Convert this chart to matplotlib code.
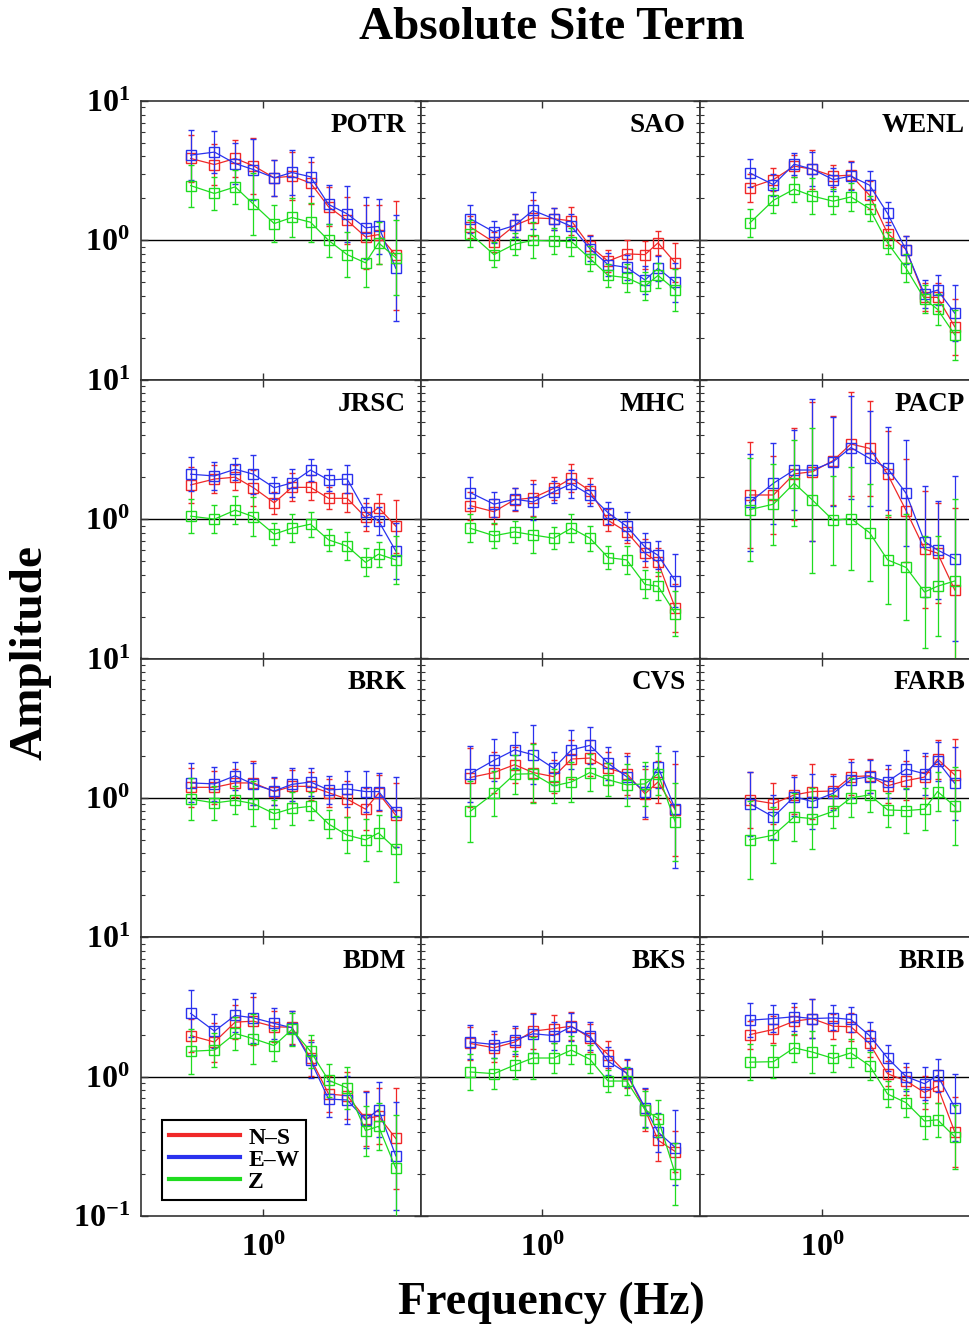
import matplotlib.pyplot as plt
from matplotlib.lines import Line2D
from matplotlib.ticker import LogLocator, NullLocator, NullFormatter, FixedLocator, FixedFormatter

plt.rcParams['font.family'] = ['Liberation Serif', 'DejaVu Serif']
plt.rcParams['font.weight'] = 'bold'
plt.rcParams['mathtext.fontset'] = 'custom'
plt.rcParams['mathtext.rm'] = 'Liberation Serif:bold'
plt.rcParams['mathtext.bf'] = 'Liberation Serif:bold'
plt.rcParams['mathtext.it'] = 'Liberation Serif:bold'

# frequency bands (Hz)
freqs = [0.41, 0.55, 0.71, 0.89, 1.15, 1.43, 1.8, 2.25, 2.83, 3.55, 4.17, 5.16]

stations = ['POTR', 'SAO', 'WENL', 'JRSC', 'MHC', 'PACP',
            'BRK', 'CVS', 'FARB', 'BDM', 'BKS', 'BRIB']
components = ['N–S', 'E–W', 'Z']
colors = ['#f02828', '#2a32ee', '#1fdc1f']

# site amplitudes, N-S / E-W / Z
potr_ns = [3.87, 3.50, 3.87, 3.43, 2.81, 2.89, 2.58, 1.74, 1.39, 1.06, 1.10, 0.78]
potr_ew = [4.09, 4.30, 3.56, 3.22, 2.81, 3.07, 2.86, 1.81, 1.55, 1.23, 1.26, 0.63]
potr_z = [2.47, 2.17, 2.42, 1.82, 1.32, 1.46, 1.35, 1.00, 0.79, 0.69, 0.96, 0.75]
sao_ns = [1.25, 0.97, 1.28, 1.45, 1.43, 1.38, 0.91, 0.71, 0.80, 0.79, 0.96, 0.69]
sao_ew = [1.43, 1.15, 1.28, 1.64, 1.43, 1.26, 0.87, 0.67, 0.64, 0.52, 0.63, 0.50]
sao_z = [1.12, 0.79, 0.94, 1.00, 0.99, 0.98, 0.74, 0.56, 0.54, 0.47, 0.56, 0.44]
wenl_ns = [2.39, 2.73, 3.41, 3.24, 2.89, 2.94, 2.11, 1.12, 0.86, 0.39, 0.39, 0.24]
wenl_ew = [3.05, 2.51, 3.52, 3.24, 2.73, 2.89, 2.49, 1.56, 0.85, 0.41, 0.44, 0.30]
wenl_z = [1.33, 1.94, 2.33, 2.08, 1.91, 2.05, 1.69, 0.96, 0.63, 0.38, 0.32, 0.21]
jrsc_ns = [1.76, 1.94, 2.00, 1.68, 1.31, 1.69, 1.69, 1.41, 1.41, 1.03, 1.21, 0.89]
jrsc_ew = [2.10, 2.04, 2.28, 2.10, 1.68, 1.82, 2.25, 1.91, 1.94, 1.13, 0.97, 0.59]
jrsc_z = [1.05, 1.00, 1.16, 1.04, 0.78, 0.86, 0.92, 0.71, 0.64, 0.49, 0.56, 0.51]
mhc_ns = [1.25, 1.13, 1.38, 1.42, 1.66, 1.96, 1.60, 0.98, 0.81, 0.57, 0.49, 0.23]
mhc_ew = [1.55, 1.28, 1.39, 1.33, 1.57, 1.79, 1.49, 1.11, 0.89, 0.63, 0.55, 0.36]
mhc_z = [0.86, 0.76, 0.81, 0.77, 0.73, 0.86, 0.73, 0.53, 0.51, 0.34, 0.33, 0.21]
pacp_ns = [1.49, 1.49, 2.11, 2.19, 2.63, 3.46, 3.22, 2.10, 1.15, 0.61, 0.57, 0.31]
pacp_ew = [1.32, 1.81, 2.25, 2.25, 2.58, 3.26, 2.73, 2.31, 1.53, 0.69, 0.60, 0.52]
pacp_z = [1.17, 1.28, 1.81, 1.37, 0.98, 1.01, 0.80, 0.51, 0.45, 0.30, 0.33, 0.36]
brk_ns = [1.19, 1.19, 1.28, 1.28, 1.11, 1.21, 1.21, 1.09, 0.98, 0.83, 1.08, 0.75]
brk_ew = [1.28, 1.26, 1.44, 1.25, 1.12, 1.25, 1.30, 1.14, 1.16, 1.11, 1.11, 0.79]
brk_z = [0.98, 0.92, 0.96, 0.91, 0.77, 0.84, 0.87, 0.65, 0.54, 0.50, 0.56, 0.43]
cvs_ns = [1.40, 1.52, 1.73, 1.52, 1.42, 1.90, 1.93, 1.63, 1.49, 1.07, 1.30, 0.82]
cvs_ew = [1.49, 1.86, 2.21, 2.04, 1.63, 2.21, 2.38, 1.77, 1.42, 1.11, 1.66, 0.83]
cvs_z = [0.80, 1.08, 1.48, 1.49, 1.22, 1.30, 1.52, 1.35, 1.24, 1.26, 1.49, 0.67]
farb_ns = [0.97, 0.91, 1.05, 1.11, 1.12, 1.42, 1.44, 1.22, 1.33, 1.41, 1.90, 1.46]
farb_ew = [0.91, 0.73, 1.02, 0.94, 1.08, 1.35, 1.42, 1.31, 1.61, 1.49, 1.83, 1.27]
farb_z = [0.50, 0.54, 0.73, 0.71, 0.80, 1.00, 1.05, 0.82, 0.81, 0.83, 1.11, 0.87]
bdm_ns = [1.97, 1.77, 2.46, 2.50, 2.28, 2.26, 1.36, 0.75, 0.73, 0.50, 0.52, 0.36]
bdm_ew = [2.84, 2.12, 2.75, 2.64, 2.41, 2.24, 1.31, 0.69, 0.68, 0.49, 0.58, 0.27]
bdm_z = [1.52, 1.55, 2.04, 1.87, 1.67, 2.18, 1.52, 0.94, 0.83, 0.41, 0.44, 0.22]
bks_ns = [1.73, 1.61, 1.77, 2.12, 2.21, 2.30, 1.90, 1.44, 1.05, 0.58, 0.35, 0.29]
bks_ew = [1.77, 1.70, 1.83, 2.03, 1.97, 2.28, 1.95, 1.29, 1.06, 0.60, 0.40, 0.31]
bks_z = [1.08, 1.05, 1.21, 1.36, 1.36, 1.55, 1.33, 0.93, 0.93, 0.58, 0.50, 0.20]
brib_ns = [2.00, 2.18, 2.50, 2.60, 2.30, 2.28, 1.73, 1.05, 0.93, 0.77, 0.85, 0.40]
brib_ew = [2.54, 2.61, 2.69, 2.61, 2.64, 2.57, 1.97, 1.36, 1.00, 0.89, 1.02, 0.60]
brib_z = [1.27, 1.28, 1.61, 1.50, 1.35, 1.48, 1.20, 0.75, 0.65, 0.48, 0.49, 0.37]

# error bar half-widths, in log10 units
potr_ns_err = [0.17, 0.15, 0.13, 0.20, 0.13, 0.17, 0.15, 0.14, 0.17, 0.23, 0.21, 0.39]
potr_ew_err = [0.18, 0.15, 0.15, 0.22, 0.13, 0.16, 0.14, 0.14, 0.20, 0.22, 0.20, 0.38]
potr_z_err = [0.15, 0.12, 0.12, 0.22, 0.13, 0.14, 0.14, 0.12, 0.16, 0.17, 0.15, 0.27]
sao_ns_err = [0.08, 0.07, 0.08, 0.13, 0.08, 0.10, 0.08, 0.08, 0.10, 0.10, 0.085, 0.14]
sao_ew_err = [0.10, 0.08, 0.08, 0.13, 0.08, 0.09, 0.09, 0.08, 0.09, 0.10, 0.09, 0.14]
sao_z_err = [0.10, 0.09, 0.08, 0.13, 0.09, 0.10, 0.09, 0.08, 0.10, 0.10, 0.09, 0.15]
wenl_ns_err = [0.10, 0.08, 0.08, 0.14, 0.08, 0.10, 0.10, 0.08, 0.10, 0.10, 0.10, 0.20]
wenl_ew_err = [0.10, 0.08, 0.08, 0.12, 0.08, 0.10, 0.10, 0.08, 0.10, 0.10, 0.11, 0.20]
wenl_z_err = [0.10, 0.09, 0.09, 0.13, 0.09, 0.10, 0.09, 0.08, 0.10, 0.10, 0.11, 0.18]
jrsc_ns_err = [0.13, 0.10, 0.09, 0.13, 0.08, 0.10, 0.09, 0.08, 0.10, 0.10, 0.10, 0.19]
jrsc_ew_err = [0.12, 0.10, 0.08, 0.14, 0.08, 0.10, 0.08, 0.08, 0.10, 0.10, 0.10, 0.20]
jrsc_z_err = [0.12, 0.10, 0.10, 0.14, 0.08, 0.10, 0.09, 0.08, 0.10, 0.10, 0.09, 0.17]
mhc_ns_err = [0.10, 0.09, 0.08, 0.13, 0.08, 0.10, 0.09, 0.08, 0.08, 0.10, 0.10, 0.17]
mhc_ew_err = [0.11, 0.09, 0.08, 0.13, 0.08, 0.10, 0.08, 0.08, 0.10, 0.10, 0.10, 0.19]
mhc_z_err = [0.10, 0.09, 0.08, 0.13, 0.08, 0.10, 0.09, 0.08, 0.10, 0.10, 0.10, 0.16]
pacp_ns_err = [0.38, 0.28, 0.33, 0.50, 0.32, 0.37, 0.34, 0.31, 0.37, 0.42, 0.36, 0.59]
pacp_ew_err = [0.35, 0.29, 0.29, 0.51, 0.32, 0.37, 0.34, 0.30, 0.38, 0.40, 0.35, 0.59]
pacp_z_err = [0.37, 0.29, 0.31, 0.52, 0.32, 0.37, 0.35, 0.32, 0.38, 0.40, 0.36, 0.59]
brk_ns_err = [0.14, 0.12, 0.10, 0.16, 0.10, 0.12, 0.10, 0.10, 0.13, 0.15, 0.13, 0.23]
brk_ew_err = [0.14, 0.12, 0.10, 0.15, 0.10, 0.12, 0.10, 0.10, 0.13, 0.15, 0.13, 0.25]
brk_z_err = [0.15, 0.12, 0.10, 0.16, 0.10, 0.12, 0.10, 0.10, 0.13, 0.15, 0.13, 0.24]
cvs_ns_err = [0.21, 0.15, 0.13, 0.21, 0.12, 0.14, 0.13, 0.12, 0.15, 0.18, 0.15, 0.33]
cvs_ew_err = [0.20, 0.15, 0.13, 0.21, 0.12, 0.14, 0.13, 0.12, 0.15, 0.18, 0.15, 0.42]
cvs_z_err = [0.22, 0.16, 0.14, 0.21, 0.12, 0.14, 0.13, 0.12, 0.15, 0.16, 0.15, 0.28]
farb_ns_err = [0.20, 0.15, 0.14, 0.20, 0.12, 0.13, 0.12, 0.12, 0.14, 0.15, 0.14, 0.26]
farb_ew_err = [0.23, 0.16, 0.14, 0.20, 0.12, 0.13, 0.12, 0.12, 0.14, 0.15, 0.14, 0.26]
farb_z_err = [0.28, 0.20, 0.17, 0.22, 0.12, 0.14, 0.12, 0.12, 0.16, 0.15, 0.14, 0.28]
bdm_ns_err = [0.12, 0.14, 0.12, 0.17, 0.11, 0.12, 0.13, 0.13, 0.17, 0.20, 0.20, 0.36]
bdm_ew_err = [0.17, 0.12, 0.12, 0.18, 0.11, 0.12, 0.13, 0.13, 0.17, 0.20, 0.20, 0.39]
bdm_z_err = [0.16, 0.12, 0.12, 0.18, 0.11, 0.12, 0.12, 0.12, 0.15, 0.18, 0.17, 0.38]
bks_ns_err = [0.12, 0.10, 0.10, 0.13, 0.10, 0.10, 0.10, 0.10, 0.10, 0.15, 0.15, 0.15]
bks_ew_err = [0.12, 0.10, 0.10, 0.14, 0.10, 0.10, 0.10, 0.10, 0.10, 0.14, 0.14, 0.27]
bks_z_err = [0.13, 0.11, 0.10, 0.15, 0.11, 0.10, 0.10, 0.08, 0.10, 0.13, 0.13, 0.22]
brib_ns_err = [0.10, 0.10, 0.10, 0.14, 0.09, 0.10, 0.10, 0.09, 0.10, 0.12, 0.12, 0.25]
brib_ew_err = [0.12, 0.10, 0.10, 0.14, 0.09, 0.09, 0.10, 0.09, 0.10, 0.12, 0.12, 0.24]
brib_z_err = [0.13, 0.12, 0.10, 0.15, 0.10, 0.10, 0.10, 0.09, 0.10, 0.13, 0.12, 0.23]

amps = [
    (potr_ns, potr_ew, potr_z), (sao_ns, sao_ew, sao_z), (wenl_ns, wenl_ew, wenl_z),
    (jrsc_ns, jrsc_ew, jrsc_z), (mhc_ns, mhc_ew, mhc_z), (pacp_ns, pacp_ew, pacp_z),
    (brk_ns, brk_ew, brk_z), (cvs_ns, cvs_ew, cvs_z), (farb_ns, farb_ew, farb_z),
    (bdm_ns, bdm_ew, bdm_z), (bks_ns, bks_ew, bks_z), (brib_ns, brib_ew, brib_z),
]
errs = [
    (potr_ns_err, potr_ew_err, potr_z_err), (sao_ns_err, sao_ew_err, sao_z_err),
    (wenl_ns_err, wenl_ew_err, wenl_z_err), (jrsc_ns_err, jrsc_ew_err, jrsc_z_err),
    (mhc_ns_err, mhc_ew_err, mhc_z_err), (pacp_ns_err, pacp_ew_err, pacp_z_err),
    (brk_ns_err, brk_ew_err, brk_z_err), (cvs_ns_err, cvs_ew_err, cvs_z_err),
    (farb_ns_err, farb_ew_err, farb_z_err), (bdm_ns_err, bdm_ew_err, bdm_z_err),
    (bks_ns_err, bks_ew_err, bks_z_err), (brib_ns_err, brib_ew_err, brib_z_err),
]

W, H = 969, 1330
fig = plt.figure(figsize=(W / 100, H / 100), dpi=100)

x0, y0 = 141, 101
cw, rh = 279.5, 278.75

for i, name in enumerate(stations):
    r, c = divmod(i, 3)
    ax = fig.add_axes([(x0 + c * cw) / W, 1 - (y0 + (r + 1) * rh) / H, cw / W, rh / H])
    ax.set_xscale('log')
    ax.set_yscale('log')

    ax.axhline(1, color='black', lw=1.0, zorder=1)
    for k in range(3):
        v = amps[i][k]
        e = errs[i][k]
        lo = [a - a / 10 ** d for a, d in zip(v, e)]
        hi = [a * 10 ** d - a for a, d in zip(v, e)]
        ax.errorbar(freqs, v, yerr=[lo, hi], fmt='-s', color=colors[k], mfc='none',
                    ms=6.5, mew=1.0, lw=0.9, ecolor=colors[k], elinewidth=0.9,
                    capsize=2, capthick=0.9, zorder=2 + k)

    ax.set_xlim(0.222, 7.0)
    ax.set_ylim(0.1, 10)
    ax.xaxis.set_major_locator(FixedLocator([1]))
    ax.xaxis.set_minor_locator(NullLocator())
    ax.yaxis.set_major_locator(FixedLocator([0.1, 1, 10]))
    ax.yaxis.set_minor_locator(LogLocator(subs=range(2, 10)))
    ax.yaxis.set_minor_formatter(NullFormatter())
    ax.tick_params(which='both', direction='in', top=True, right=True,
                   labelsize=23, color='#333333')
    ax.tick_params(which='major', length=5, width=1)
    ax.tick_params(which='minor', length=3, width=0.8)
    ax.tick_params(axis='y', pad=8)
    ax.tick_params(axis='x', pad=13)

    if c == 0:
        if r == 3:
            ylabs = [r'$10^{-1}$', r'$10^{0}$', r'$10^{1}$']
        else:
            ylabs = ['', r'$10^{0}$', r'$10^{1}$']
        ax.yaxis.set_major_formatter(FixedFormatter(ylabs))
    else:
        ax.tick_params(labelleft=False)
    if r == 3:
        ax.xaxis.set_major_formatter(FixedFormatter([r'$10^{0}$']))
    else:
        ax.tick_params(labelbottom=False)

    for s in ax.spines.values():
        s.set_color('#333333')
        s.set_linewidth(1.2)

    ax.text(0.948, 0.913, name, transform=ax.transAxes, ha='right', va='center',
            fontsize=19.5, fontweight='bold')

    if name == 'BDM':
        handles = [Line2D([], [], color=col, lw=3) for col in colors]
        leg = ax.legend(handles, components, loc='lower left', bbox_to_anchor=(0.075, 0.058),
                        borderaxespad=0, fancybox=False, framealpha=1, edgecolor='black',
                        fontsize=17, handlelength=3.0, handletextpad=0.35,
                        labelspacing=0.02, borderpad=0.3)
        leg.get_frame().set_linewidth(1.5)

fig.text(552 / W, 1 - 28 / H, 'Absolute Site Term', ha='center', va='center',
         fontsize=34, fontweight='bold')
fig.text(551 / W, 1 - 1303 / H, 'Frequency (Hz)', ha='center', va='center',
         fontsize=33, fontweight='bold')
fig.text(31 / W, 1 - 652 / H, 'Amplitude', ha='center', va='center', rotation=90,
         fontsize=34, fontweight='bold')

fig.savefig('out.png', dpi=100)
